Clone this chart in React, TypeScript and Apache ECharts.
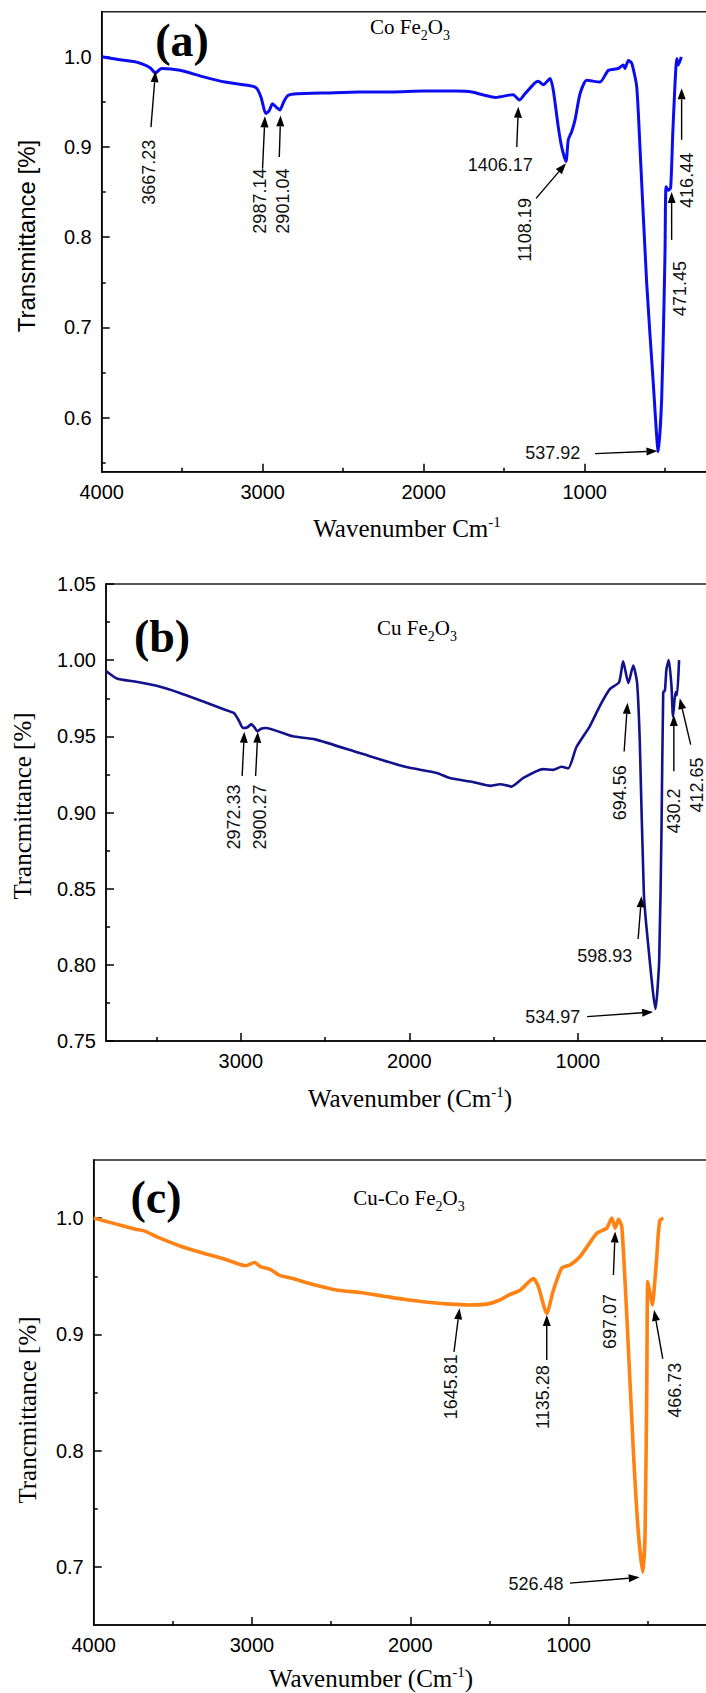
import { useEffect, useRef } from "react";
import * as echarts from "echarts";

// ---------------- Data ----------------
// (a) Co Fe2O3
const coWn = [4000, 3900, 3793, 3720, 3694, 3666, 3640, 3625, 3514, 3373, 3234, 3066, 3037, 3010, 2981, 2960, 2939, 2915, 2893, 2870, 2843, 2787, 2600, 2400, 2200, 2000, 1800, 1700, 1625, 1554, 1470, 1444, 1406, 1371, 1309, 1288, 1257, 1215, 1195, 1164, 1143, 1116, 1102, 1081, 1060, 1029, 988, 905, 853, 791, 760, 750, 729, 708, 677, 656, 615, 574, 543, 522, 507, 501, 495, 481, 466, 453, 439, 428, 418, 400];
const coT = [1.0, 0.997, 0.9945, 0.99, 0.987, 0.982, 0.986, 0.987, 0.985, 0.978, 0.972, 0.9675, 0.965, 0.955, 0.937, 0.94, 0.948, 0.944, 0.941, 0.95, 0.957, 0.959, 0.96, 0.961, 0.961, 0.962, 0.962, 0.961, 0.9575, 0.955, 0.9575, 0.958, 0.952, 0.959, 0.971, 0.973, 0.969, 0.976, 0.963, 0.922, 0.9, 0.884, 0.908, 0.917, 0.93, 0.959, 0.974, 0.972, 0.985, 0.987, 0.991, 0.987, 0.996, 0.993, 0.967, 0.897, 0.749, 0.638, 0.562, 0.62, 0.73, 0.785, 0.856, 0.852, 0.855, 0.915, 0.97, 0.998, 0.991, 1.0];

// (b) Cu Fe2O3
const cuWn = [3802, 3736, 3629, 3494, 3362, 3227, 3094, 3041, 3010, 2988, 2960, 2938, 2920, 2901, 2880, 2853, 2693, 2559, 2294, 2024, 1837, 1759, 1623, 1516, 1463, 1410, 1394, 1325, 1206, 1147, 1097, 1057, 1008, 929, 869, 810, 755, 731, 700, 671, 648, 632, 608, 583, 539, 517, 503, 493, 483, 474, 460, 444, 435, 420, 411, 399];
const cuT = [0.993, 0.988, 0.986, 0.983, 0.9785, 0.973, 0.9675, 0.9653, 0.96, 0.9555, 0.956, 0.958, 0.956, 0.9533, 0.955, 0.9555, 0.95, 0.948, 0.939, 0.93, 0.926, 0.9226, 0.92, 0.9175, 0.9185, 0.9175, 0.917, 0.9226, 0.9285, 0.928, 0.93, 0.929, 0.943, 0.9566, 0.97, 0.981, 0.9855, 0.9993, 0.985, 0.9965, 0.985, 0.946, 0.847, 0.814, 0.771, 0.803, 0.891, 0.979, 0.98, 0.994, 1.0, 0.983, 0.963, 0.979, 0.977, 1.0];

// (c) Cu-Co Fe2O3
const cucoWn = [4000, 3880, 3739, 3681, 3596, 3455, 3311, 3170, 3041, 2984, 2943, 2886, 2829, 2742, 2602, 2457, 2318, 2173, 2032, 1890, 1748, 1632, 1519, 1433, 1376, 1306, 1222, 1191, 1138, 1096, 1043, 991, 927, 822, 759, 727, 706, 685, 664, 632, 591, 559, 531, 517, 506, 500, 485, 471, 460, 443, 433, 422, 401];
const cucoT = [1.0, 0.9957, 0.9905, 0.989, 0.9836, 0.976, 0.97, 0.9647, 0.959, 0.9618, 0.958, 0.956, 0.951, 0.948, 0.9425, 0.938, 0.936, 0.933, 0.93, 0.9276, 0.926, 0.9253, 0.926, 0.9296, 0.934, 0.938, 0.948, 0.941, 0.918, 0.938, 0.957, 0.9597, 0.967, 0.987, 0.9914, 1.0, 0.9914, 0.999, 0.9928, 0.915, 0.8, 0.7285, 0.6954, 0.7285, 0.858, 0.9454, 0.935, 0.9253, 0.938, 0.967, 0.987, 0.9985, 1.0];

// Tick values
const aXLabels = [4000, 3000, 2000, 1000];
const bXLabels = [3000, 2000, 1000];
const cXLabels = [4000, 3000, 2000, 1000];
const xMajorTicks = [3000, 2000, 1000];
const xMinorTicks = [3500, 2500, 1500, 500];
const aYLabels = [0.6, 0.7, 0.8, 0.9, 1.0];
const aYMinor = [0.55, 0.65, 0.75, 0.85, 0.95];
const bYLabels = [0.75, 0.8, 0.85, 0.9, 0.95, 1.0, 1.05];
const bYMinor = [0.775, 0.825, 0.875, 0.925, 0.975, 1.025];
const cYLabels = [0.7, 0.8, 0.9, 1.0];
const cYMinor = [0.75, 0.85, 0.95];

// Peak annotations: label, arrow tip [wn, T], arrow tail [wn, T], label centre [wn, T], vertical?
const coPeakText = ["3667.23", "2987.14", "2901.04", "1406.17", "1108.19", "537.92", "471.45", "416.44"];
const coPeakTip = [[3666, 0.984], [2986, 0.934], [2889, 0.935], [1412, 0.9446], [1116, 0.882], [548, 0.563], [460, 0.85], [398, 0.965]];
const coPeakTail = [[3694, 0.922], [3001, 0.876], [2897, 0.889], [1422, 0.9], [1302, 0.843], [936, 0.56], [460, 0.797], [398, 0.908]];
const coPeakLabel = [[3709, 0.872], [3014, 0.84], [2875, 0.84], [1524, 0.88], [1371, 0.808], [1199, 0.5606], [408, 0.743], [366, 0.863]];
const coPeakVertical = [true, true, true, false, true, false, true, true];

const cuPeakText = ["2972.33", "2900.27", "694.56", "430.2", "412.65", "598.93", "534.97"];
const cuPeakTip = [[2979, 0.953], [2899, 0.953], [705, 0.972], [430, 0.964], [395, 0.975], [622, 0.845], [553, 0.769]];
const cuPeakTail = [[2992, 0.924], [2912, 0.924], [725, 0.94], [430, 0.927], [330, 0.9445], [642, 0.817], [945, 0.766]];
const cuPeakLabel = [[3041, 0.897], [2887, 0.897], [751, 0.913], [432, 0.901], [292, 0.918], [840, 0.806], [1148, 0.766]];
const cuPeakVertical = [true, true, true, true, true, false, false];

const cucoPeakText = ["1645.81", "1135.28", "697.07", "466.73", "526.48"];
const cucoPeakTip = [[1689, 0.9224], [1138, 0.9166], [706, 0.9885], [460, 0.921], [551, 0.691]];
const cucoPeakTail = [[1724, 0.885], [1138, 0.878], [717, 0.951], [405, 0.879], [992, 0.686]];
const cucoPeakLabel = [[1746, 0.855], [1159, 0.846], [738, 0.911], [330, 0.852], [1206, 0.685]];
const cucoPeakVertical = [true, true, true, true, false];

// ---------------- Layout ----------------
const SANS = "Liberation Sans";
const SERIF = "Liberation Serif";

const panels = [
  {
    wn: coWn, t: coT, color: "#0c0cf0", lw: 3,
    left: 101.7, top: 11.7, height: 460, xMax: 4000, ppu: 0.161, yMin: 0.54, yMax: 1.05,
    xLabels: aXLabels, yLabels: aYLabels, yMinor: aYMinor, dec: 1,
    ann: { text: coPeakText, tip: coPeakTip, tail: coPeakTail, label: coPeakLabel, vert: coPeakVertical },
    letter: "(a)", letterPos: [182, 40], title: "Co Fe{s|2}O{s|3}", titlePos: [410, 27],
    yTitle: "Transmittance [%]", yTitleFont: SANS, yTitleSize: 24, yTitlePos: [26, 236],
    xTitle: "Wavenumber Cm{p|-1}", xTitlePos: [407, 528],
  },
  {
    wn: cuWn, t: cuT, color: "#12128a", lw: 2.6,
    left: 106, top: 584, height: 457, xMax: 3800, ppu: 0.1685, yMin: 0.75, yMax: 1.05,
    xLabels: bXLabels, yLabels: bYLabels, yMinor: bYMinor, dec: 2,
    ann: { text: cuPeakText, tip: cuPeakTip, tail: cuPeakTail, label: cuPeakLabel, vert: cuPeakVertical },
    letter: "(b)", letterPos: [162, 636], title: "Cu Fe{s|2}O{s|3}", titlePos: [417, 628],
    yTitle: "Trancmittance [%]", yTitleFont: SERIF, yTitleSize: 25, yTitlePos: [22, 806],
    xTitle: "Wavenumber (Cm{p|-1})", xTitlePos: [410, 1098],
  },
  {
    wn: cucoWn, t: cucoT, color: "#ff8214", lw: 3.6,
    left: 93.7, top: 1160, height: 465, xMax: 4000, ppu: 0.1583, yMin: 0.65, yMax: 1.05,
    xLabels: cXLabels, yLabels: cYLabels, yMinor: cYMinor, dec: 1,
    ann: { text: cucoPeakText, tip: cucoPeakTip, tail: cucoPeakTail, label: cucoPeakLabel, vert: cucoPeakVertical },
    letter: "(c)", letterPos: [156, 1197], title: "Cu-Co Fe{s|2}O{s|3}", titlePos: [409, 1198],
    yTitle: "Trancmittance [%]", yTitleFont: SERIF, yTitleSize: 25, yTitlePos: [27, 1410],
    xTitle: "Wavenumber (Cm{p|-1})", xTitlePos: [371, 1678],
  },
];

const BLACK = "#000";

function buildOption(): any {
  const grid: any[] = [];
  const xAxis: any[] = [];
  const yAxis: any[] = [];
  const series: any[] = [];
  panels.forEach((p, i) => {
    grid.push({
      left: p.left, top: p.top, width: p.xMax * p.ppu, height: p.height,
      containLabel: false, outerBoundsMode: "none",
      show: true, borderColor: "#222", borderWidth: 1.5, backgroundColor: "transparent",
    });
    const xBase = { gridIndex: i, type: "value", min: 0, max: p.xMax, inverse: true, position: "bottom", splitLine: { show: false } };
    xAxis.push({
      ...xBase,
      axisLine: { show: true, onZero: false, lineStyle: { color: BLACK, width: 1.5 } },
      axisTick: { show: true, inside: true, length: 8, customValues: xMajorTicks, lineStyle: { color: BLACK, width: 1.5 } },
      axisLabel: {
        show: true, customValues: p.xLabels, color: BLACK, fontSize: 20, fontFamily: SANS, margin: 10,
        formatter: (v: number) => String(Math.round(v)),
      },
    });
    xAxis.push({
      ...xBase,
      axisLine: { show: false, onZero: false },
      axisTick: { show: true, inside: true, length: 4, customValues: xMinorTicks, lineStyle: { color: BLACK, width: 1.5 } },
      axisLabel: { show: false },
    });
    const yBase = { gridIndex: i, type: "value", min: p.yMin, max: p.yMax, position: "left", splitLine: { show: false } };
    yAxis.push({
      ...yBase,
      axisLine: { show: true, onZero: false, lineStyle: { color: BLACK, width: 1.5 } },
      axisTick: { show: true, inside: true, length: 8, customValues: p.yLabels, lineStyle: { color: BLACK, width: 1.5 } },
      axisLabel: {
        show: true, customValues: p.yLabels, color: BLACK, fontSize: 20, fontFamily: SANS, margin: 10,
        formatter: (v: number) => v.toFixed(p.dec),
      },
    });
    yAxis.push({
      ...yBase,
      axisLine: { show: false, onZero: false },
      axisTick: { show: true, inside: true, length: 4, customValues: p.yMinor, lineStyle: { color: BLACK, width: 1.5 } },
      axisLabel: { show: false },
    });
    series.push({
      type: "line", xAxisIndex: 2 * i, yAxisIndex: 2 * i,
      data: p.wn.map((w, k) => [w, p.t[k]]),
      showSymbol: false, symbol: "none", smooth: 0.2, silent: true, clip: true,
      lineStyle: { color: p.color, width: p.lw, join: "round" },
    });
  });
  return { animation: false, backgroundColor: "#fff", grid, xAxis, yAxis, series };
}

function buildGraphics(chart: any): any[] {
  const els: any[] = [];
  panels.forEach((p, i) => {
    const toPx = (pt: number[]) => chart.convertToPixel({ seriesIndex: i }, pt) as number[];
    const a = p.ann;
    a.text.forEach((txt, k) => {
      const [tx, ty] = toPx(a.tip[k]);
      const [sx, sy] = toPx(a.tail[k]);
      const [lx, ly] = toPx(a.label[k]);
      const dx = tx - sx, dy = ty - sy;
      const len = Math.hypot(dx, dy) || 1;
      const ux = dx / len, uy = dy / len;
      const headL = 11, headW = 4;
      const bx = tx - ux * headL, by = ty - uy * headL;
      els.push({ type: "line", z: 50, shape: { x1: sx, y1: sy, x2: bx, y2: by }, style: { stroke: BLACK, lineWidth: 1.4 } });
      els.push({
        type: "polygon", z: 50,
        shape: { points: [[tx, ty], [bx - uy * headW, by + ux * headW], [bx + uy * headW, by - ux * headW]] },
        style: { fill: BLACK },
      });
      els.push({
        type: "text", z: 50, x: lx, y: ly, rotation: a.vert[k] ? Math.PI / 2 : 0,
        style: { text: txt, fontSize: 18, fontFamily: SANS, fill: "#111", align: "center", verticalAlign: "middle" },
      });
    });
    // panel letter
    els.push({
      type: "text", z: 50, x: p.letterPos[0], y: p.letterPos[1],
      style: { text: p.letter, fontSize: 46, fontWeight: "bold", fontFamily: SERIF, fill: BLACK, align: "center", verticalAlign: "middle" },
    });
    // sample title with subscripts
    els.push({
      type: "text", z: 50, x: p.titlePos[0], y: p.titlePos[1],
      style: {
        text: p.title, fontSize: 21, fontFamily: SERIF, fill: BLACK, align: "center", verticalAlign: "middle", lineHeight: 30,
        rich: { s: { fontSize: 14, fontFamily: SERIF, fill: BLACK, verticalAlign: "bottom", height: 14, lineHeight: 14 } },
      },
    });
    // y-axis title
    els.push({
      type: "text", z: 50, x: p.yTitlePos[0], y: p.yTitlePos[1], rotation: Math.PI / 2,
      style: { text: p.yTitle, fontSize: p.yTitleSize, fontFamily: p.yTitleFont, fill: BLACK, align: "center", verticalAlign: "middle" },
    });
    // x-axis title with superscript
    els.push({
      type: "text", z: 50, x: p.xTitlePos[0], y: p.xTitlePos[1],
      style: {
        text: p.xTitle, fontSize: 25, fontFamily: SERIF, fill: BLACK, align: "center", verticalAlign: "middle", lineHeight: 28,
        rich: { p: { fontSize: 15, fontFamily: SERIF, fill: BLACK, verticalAlign: "top", height: 15, lineHeight: 15 } },
      },
    });
  });
  return els;
}

export default function App() {
  const ref = useRef<HTMLDivElement>(null);
  useEffect(() => {
    document.body.style.margin = "0";
    if (!ref.current) return;
    const chart = echarts.init(ref.current, null, { renderer: "svg" });
    chart.setOption(buildOption());
    chart.setOption({ graphic: { elements: buildGraphics(chart) } });
    return () => chart.dispose();
  }, []);
  return <div ref={ref} style={{ width: 706, height: 1693, position: "absolute", left: 0, top: 0 }} />;
}
